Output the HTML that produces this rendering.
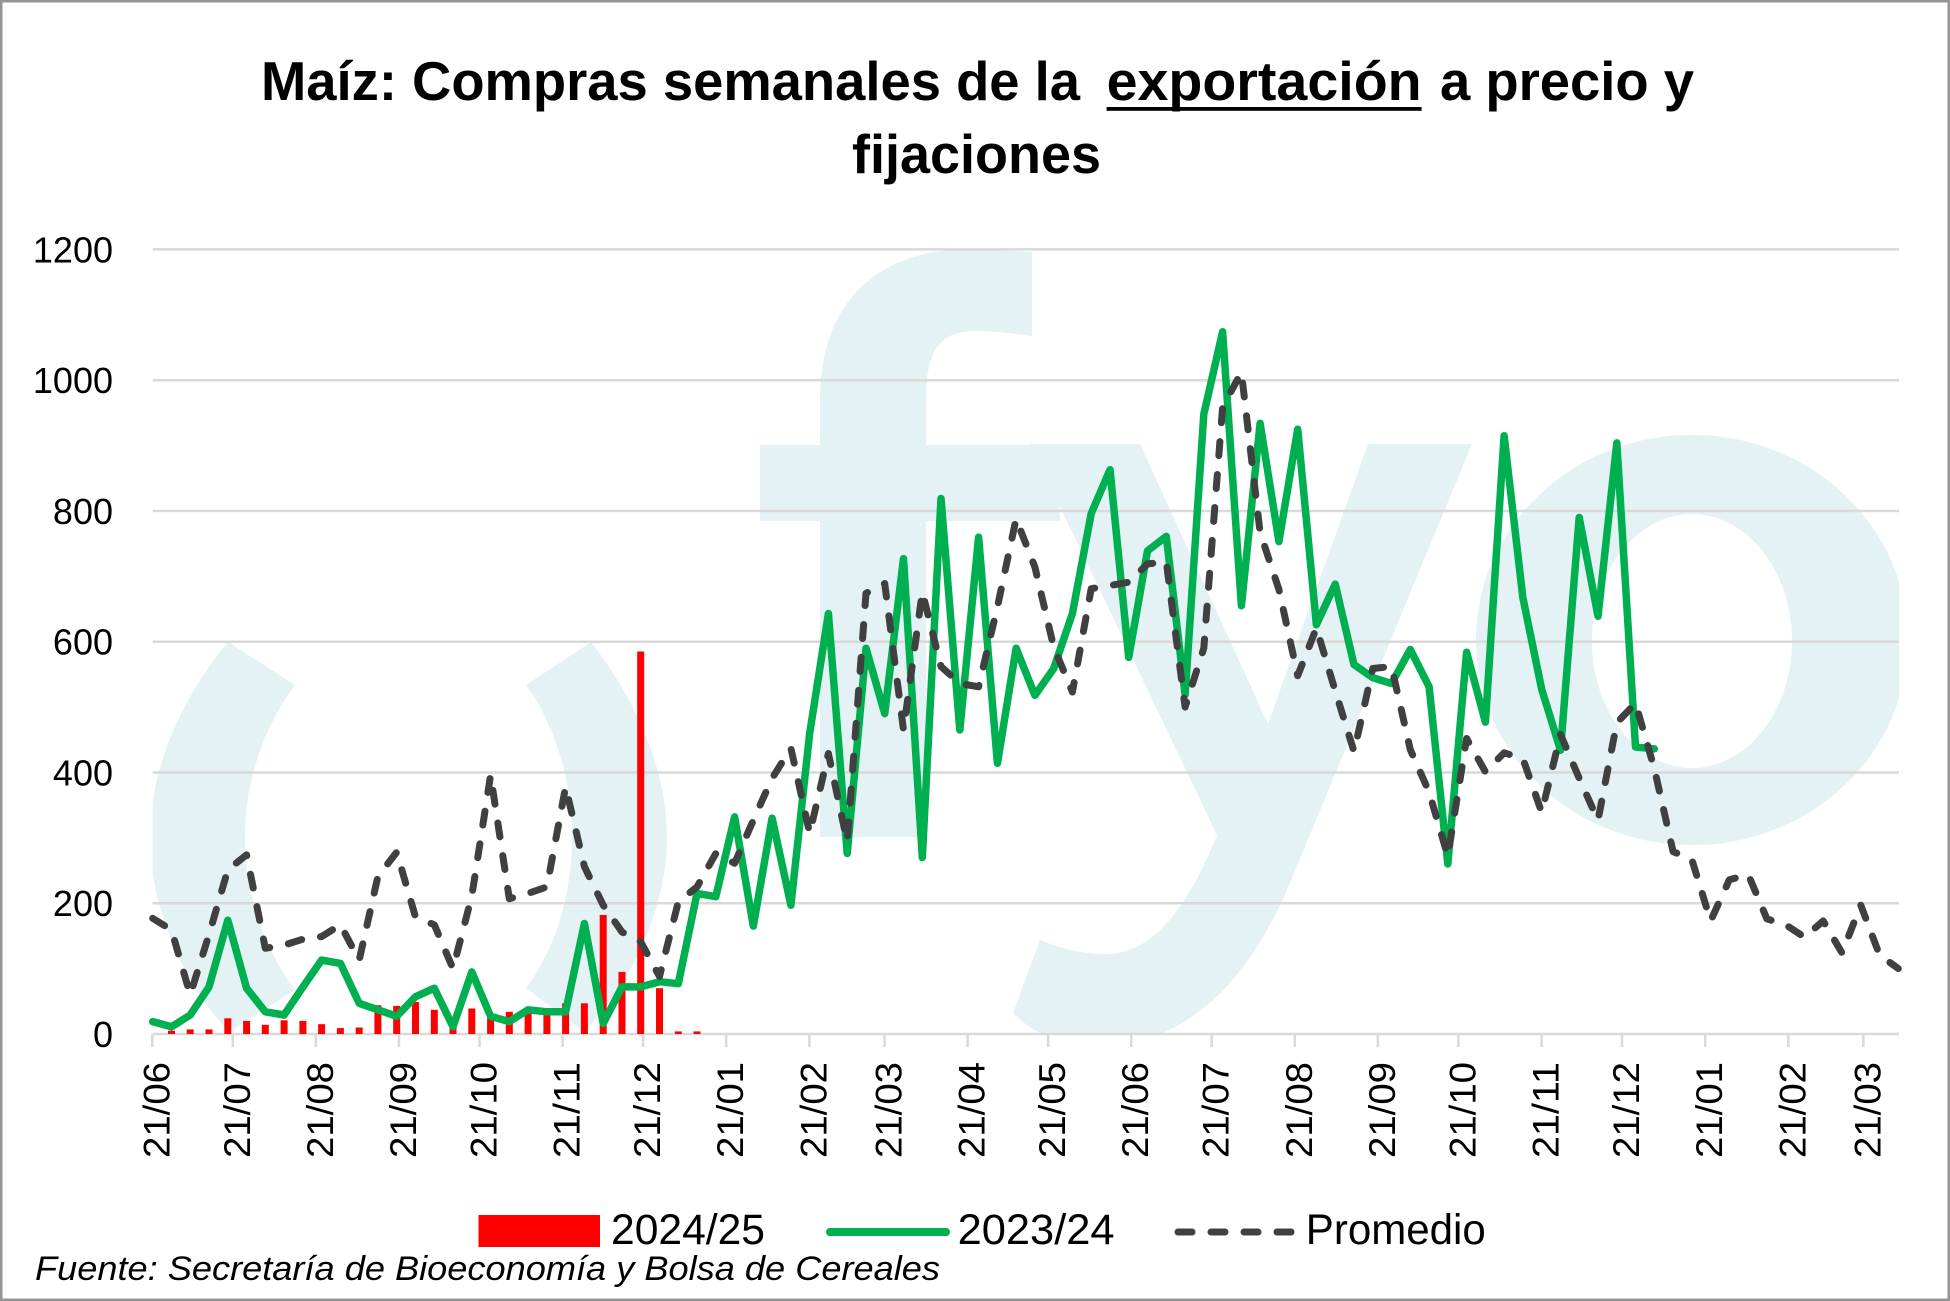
<!DOCTYPE html>
<html>
<head>
<meta charset="utf-8">
<style>
html,body{margin:0;padding:0;background:#fff;}
svg{display:block;}
text{font-family:"Liberation Sans",Arial,sans-serif;fill:#000;}
</style>
</head>
<body>
<svg width="1950" height="1301" viewBox="0 0 1950 1301" xmlns="http://www.w3.org/2000/svg">
<defs>
<clipPath id="pa"><rect x="152.7" y="249" width="1746.5" height="785"/></clipPath>
</defs>
<rect x="0" y="0" width="1950" height="1301" fill="#fff"/>

<!-- watermark -->
<g clip-path="url(#pa)" fill="#e4f1f5">
  <path d="M228,642 C180,700 150,770 150,837 C150,910 185,985 229,1032 L295,990 C265,950 245,895 245,837 C245,780 265,725 295,685 Z"/>
  <path d="M591,642 C636,700 667,770 667,837 C667,910 630,985 584,1032 L526,988 C555,950 572,895 572,837 C572,780 555,725 526,685 Z"/>
  <path d="M820,837 L820,400 C820,300 880,249 970,249 L1032,252 L1032,336 C1010,333 990,331 975,331 C940,331 926,350 926,400 L926,837 Z"/>
  <rect x="760" y="445" width="300" height="76"/>
  <path d="M1030,444 L1140,444 L1268,724 L1368,444 L1472,444 L1287,890 C1245,985 1185,1045 1100,1045 C1070,1045 1040,1040 1013,1013 L1040,940 C1065,950 1085,954 1107,954 C1160,954 1195,890 1217,835 Z"/>
  <path fill-rule="evenodd" d="M1476,640 A216,205 0 1,0 1908,640 A216,205 0 1,0 1476,640 Z M1592,641 A100,127 0 1,0 1792,641 A100,127 0 1,0 1592,641 Z"/>
</g>

<!-- gridlines -->
<g stroke="#d9d9d9" stroke-width="2.5">
  <line x1="152.7" y1="249.4" x2="1899" y2="249.4"/>
  <line x1="152.7" y1="380.2" x2="1899" y2="380.2"/>
  <line x1="152.7" y1="511" x2="1899" y2="511"/>
  <line x1="152.7" y1="641.7" x2="1899" y2="641.7"/>
  <line x1="152.7" y1="772.5" x2="1899" y2="772.5"/>
  <line x1="152.7" y1="903.2" x2="1899" y2="903.2"/>
  <line x1="152.7" y1="1034" x2="1899" y2="1034"/>
</g>
<!-- ticks -->
<g stroke="#d9d9d9" stroke-width="2.5">
  <line x1="152.3" y1="1034" x2="152.3" y2="1047"/>
  <line x1="232.8" y1="1034" x2="232.8" y2="1047"/>
  <line x1="315.9" y1="1034" x2="315.9" y2="1047"/>
  <line x1="399.0" y1="1034" x2="399.0" y2="1047"/>
  <line x1="479.5" y1="1034" x2="479.5" y2="1047"/>
  <line x1="562.6" y1="1034" x2="562.6" y2="1047"/>
  <line x1="643.1" y1="1034" x2="643.1" y2="1047"/>
  <line x1="726.2" y1="1034" x2="726.2" y2="1047"/>
  <line x1="809.4" y1="1034" x2="809.4" y2="1047"/>
  <line x1="884.5" y1="1034" x2="884.5" y2="1047"/>
  <line x1="967.6" y1="1034" x2="967.6" y2="1047"/>
  <line x1="1048.1" y1="1034" x2="1048.1" y2="1047"/>
  <line x1="1131.2" y1="1034" x2="1131.2" y2="1047"/>
  <line x1="1211.7" y1="1034" x2="1211.7" y2="1047"/>
  <line x1="1294.8" y1="1034" x2="1294.8" y2="1047"/>
  <line x1="1377.9" y1="1034" x2="1377.9" y2="1047"/>
  <line x1="1458.4" y1="1034" x2="1458.4" y2="1047"/>
  <line x1="1541.6" y1="1034" x2="1541.6" y2="1047"/>
  <line x1="1622.0" y1="1034" x2="1622.0" y2="1047"/>
  <line x1="1705.2" y1="1034" x2="1705.2" y2="1047"/>
  <line x1="1788.3" y1="1034" x2="1788.3" y2="1047"/>
  <line x1="1863.4" y1="1034" x2="1863.4" y2="1047"/>
</g>

<!-- bars 2024/25 -->
<g fill="#ff0000">
  <rect x="168" y="1030.7" width="7" height="3.3"/>
  <rect x="186.7" y="1029.4" width="7" height="4.6"/>
  <rect x="205.5" y="1029.4" width="7" height="4.6"/>
  <rect x="224.3" y="1018.3" width="7" height="15.7"/>
  <rect x="243.1" y="1020.9" width="7" height="13.1"/>
  <rect x="261.8" y="1024.8" width="7" height="9.2"/>
  <rect x="280.6" y="1020.3" width="7" height="13.7"/>
  <rect x="299.4" y="1020.9" width="7" height="13.1"/>
  <rect x="318.1" y="1024.2" width="7" height="9.8"/>
  <rect x="336.9" y="1028.1" width="7" height="5.9"/>
  <rect x="355.7" y="1027.5" width="7" height="6.5"/>
  <rect x="374.4" y="1005.2" width="7" height="28.8"/>
  <rect x="393.2" y="1005.9" width="7" height="28.1"/>
  <rect x="412.0" y="1002.0" width="7" height="32.0"/>
  <rect x="430.8" y="1009.8" width="7" height="24.2"/>
  <rect x="449.5" y="1026.2" width="7" height="7.8"/>
  <rect x="468.3" y="1008.5" width="7" height="25.5"/>
  <rect x="487.1" y="1017.7" width="7" height="16.3"/>
  <rect x="505.8" y="1011.8" width="7" height="22.2"/>
  <rect x="524.6" y="1011.1" width="7" height="22.9"/>
  <rect x="543.4" y="1011.1" width="7" height="22.9"/>
  <rect x="562.1" y="1003.3" width="7" height="30.7"/>
  <rect x="580.9" y="1003.3" width="7" height="30.7"/>
  <rect x="599.7" y="915.0" width="7" height="119.0"/>
  <rect x="618.5" y="971.9" width="7" height="62.1"/>
  <rect x="637.2" y="651.5" width="7" height="382.5"/>
  <rect x="656.0" y="988.2" width="7" height="45.8"/>
  <rect x="674.8" y="1031.4" width="7" height="2.6"/>
  <rect x="693.5" y="1031.4" width="7" height="2.6"/>
</g>

<!-- 2023/24 green -->
<polyline fill="none" stroke="#00b050" stroke-width="7.5" stroke-linejoin="round" stroke-linecap="round"
points="152.7,1021.6 171.5,1026.8 190.2,1015.0 209.0,986.9 227.8,920.2 246.6,988.2 265.3,1011.8 284.1,1015.0 302.9,986.9 321.6,960.1 340.4,963.4 359.2,1003.3 377.9,1009.8 396.7,1016.3 415.5,996.7 434.3,988.2 453.0,1026.8 471.8,971.9 490.6,1016.3 509.3,1021.6 528.1,1009.8 546.9,1011.8 565.6,1011.8 584.4,923.5 603.2,1023.5 622.0,986.9 640.7,986.9 659.5,981.7 678.3,983.7 697.0,893.4 715.8,896.7 734.6,816.9 753.3,926.1 772.1,818.2 790.9,905.2 809.7,733.2 828.4,613.6 847.2,853.5 866.0,648.2 884.7,713.6 903.5,558.6 922.3,857.5 941.0,498.5 959.8,730.0 978.6,537.1 997.4,763.3 1016.1,648.2 1034.9,695.3 1053.7,668.5 1072.4,613.6 1091.2,513.5 1110.0,469.7 1128.7,657.4 1147.5,550.8 1166.3,536.4 1185.1,694.7 1203.8,414.2 1222.6,331.8 1241.4,605.7 1260.1,423.3 1278.9,541.6 1297.7,429.2 1316.4,624.7 1335.2,584.1 1354.0,664.6 1372.8,677.7 1391.5,683.5 1410.3,649.5 1429.1,686.8 1447.8,864.0 1466.6,652.2 1485.4,722.1 1504.1,435.7 1522.9,597.9 1541.7,689.4 1560.5,750.2 1579.2,517.5 1598.0,616.2 1616.8,442.9 1635.5,747.0 1654.3,748.9"/>

<!-- Promedio dashed -->
<polyline fill="none" stroke="#404040" stroke-width="7" stroke-linejoin="round" stroke-linecap="round" stroke-dasharray="14 19"
points="152.7,918.3 171.5,930.0 190.2,994.8 209.0,934.6 227.8,869.9 246.6,854.8 265.3,948.3 284.1,945.1 302.9,939.2 321.6,936.6 340.4,924.8 359.2,960.1 377.9,876.4 396.7,852.2 415.5,917.0 434.3,924.8 453.0,968.6 471.8,896.0 490.6,775.1 509.3,898.7 528.1,893.4 546.9,886.9 565.6,786.8 584.4,866.6 603.2,905.2 622.0,932.0 640.7,941.8 659.5,976.5 678.3,901.9 697.0,886.9 715.8,853.5 734.6,863.3 753.3,820.2 772.1,778.3 790.9,748.3 809.7,833.3 828.4,753.5 847.2,841.8 866.0,593.3 884.7,583.5 903.5,730.0 922.3,592.0 941.0,666.5 959.8,683.5 978.6,686.8 997.4,607.0 1016.1,518.8 1034.9,567.1 1053.7,646.9 1072.4,692.0 1091.2,588.7 1110.0,585.5 1128.7,582.2 1147.5,563.9 1166.3,561.9 1185.1,707.1 1203.8,648.2 1222.6,407.0 1241.4,372.3 1260.1,532.5 1278.9,589.4 1297.7,675.7 1316.4,628.0 1335.2,690.7 1354.0,751.5 1372.8,668.5 1391.5,666.5 1410.3,749.6 1429.1,792.1 1447.8,856.2 1466.6,738.5 1485.4,771.8 1504.1,752.8 1522.9,758.7 1541.7,812.3 1560.5,734.5 1579.2,778.3 1598.0,820.2 1616.8,722.8 1635.5,703.2 1654.3,768.5 1673.1,851.6 1691.8,859.4 1710.6,920.9 1729.4,879.7 1748.2,874.5 1766.9,918.9 1785.7,924.8 1804.5,937.2 1823.2,920.9 1842.0,952.9 1860.8,905.2 1879.5,954.9 1898.3,968.6"/>

<!-- y axis labels -->
<g font-size="36" text-anchor="end">
  <text x="113" y="262.4">1200</text>
  <text x="113" y="393.2">1000</text>
  <text x="113" y="524">800</text>
  <text x="113" y="654.7">600</text>
  <text x="113" y="785.5">400</text>
  <text x="113" y="916.2">200</text>
  <text x="113" y="1047">0</text>
</g>

<!-- x axis labels -->
<g font-size="37">
  <text transform="translate(169.3,1158) rotate(-90)" textLength="96" lengthAdjust="spacingAndGlyphs">21/06</text>
  <text transform="translate(249.8,1158) rotate(-90)" textLength="96" lengthAdjust="spacingAndGlyphs">21/07</text>
  <text transform="translate(332.9,1158) rotate(-90)" textLength="96" lengthAdjust="spacingAndGlyphs">21/08</text>
  <text transform="translate(416.0,1158) rotate(-90)" textLength="96" lengthAdjust="spacingAndGlyphs">21/09</text>
  <text transform="translate(496.5,1158) rotate(-90)" textLength="96" lengthAdjust="spacingAndGlyphs">21/10</text>
  <text transform="translate(579.6,1158) rotate(-90)" textLength="96" lengthAdjust="spacingAndGlyphs">21/11</text>
  <text transform="translate(660.1,1158) rotate(-90)" textLength="96" lengthAdjust="spacingAndGlyphs">21/12</text>
  <text transform="translate(743.2,1158) rotate(-90)" textLength="96" lengthAdjust="spacingAndGlyphs">21/01</text>
  <text transform="translate(826.4,1158) rotate(-90)" textLength="96" lengthAdjust="spacingAndGlyphs">21/02</text>
  <text transform="translate(901.5,1158) rotate(-90)" textLength="96" lengthAdjust="spacingAndGlyphs">21/03</text>
  <text transform="translate(984.6,1158) rotate(-90)" textLength="96" lengthAdjust="spacingAndGlyphs">21/04</text>
  <text transform="translate(1065.1,1158) rotate(-90)" textLength="96" lengthAdjust="spacingAndGlyphs">21/05</text>
  <text transform="translate(1148.2,1158) rotate(-90)" textLength="96" lengthAdjust="spacingAndGlyphs">21/06</text>
  <text transform="translate(1228.7,1158) rotate(-90)" textLength="96" lengthAdjust="spacingAndGlyphs">21/07</text>
  <text transform="translate(1311.8,1158) rotate(-90)" textLength="96" lengthAdjust="spacingAndGlyphs">21/08</text>
  <text transform="translate(1394.9,1158) rotate(-90)" textLength="96" lengthAdjust="spacingAndGlyphs">21/09</text>
  <text transform="translate(1475.4,1158) rotate(-90)" textLength="96" lengthAdjust="spacingAndGlyphs">21/10</text>
  <text transform="translate(1558.6,1158) rotate(-90)" textLength="96" lengthAdjust="spacingAndGlyphs">21/11</text>
  <text transform="translate(1639.0,1158) rotate(-90)" textLength="96" lengthAdjust="spacingAndGlyphs">21/12</text>
  <text transform="translate(1722.2,1158) rotate(-90)" textLength="96" lengthAdjust="spacingAndGlyphs">21/01</text>
  <text transform="translate(1805.3,1158) rotate(-90)" textLength="96" lengthAdjust="spacingAndGlyphs">21/02</text>
  <text transform="translate(1880.4,1158) rotate(-90)" textLength="96" lengthAdjust="spacingAndGlyphs">21/03</text>
</g>

<!-- title -->
<g font-size="55" font-weight="bold">
  <text x="261" y="100" textLength="819" lengthAdjust="spacingAndGlyphs">Maíz: Compras semanales de la</text>
  <text x="1106.6" y="100" textLength="315" lengthAdjust="spacingAndGlyphs">exportación</text>
  <text x="1440" y="100" textLength="254" lengthAdjust="spacingAndGlyphs">a precio y</text>
  <text x="852" y="173" textLength="249" lengthAdjust="spacingAndGlyphs">fijaciones</text>
</g>
<rect x="1106.6" y="107" width="315" height="3.8" fill="#000"/>

<!-- legend -->
<rect x="478.5" y="1215" width="121.5" height="32" fill="#ff0000"/>
<line x1="830" y1="1232" x2="946" y2="1232" stroke="#00b050" stroke-width="8" stroke-linecap="round"/>
<line x1="1178" y1="1232" x2="1297" y2="1232" stroke="#404040" stroke-width="7" stroke-linecap="round" stroke-dasharray="14 19"/>
<g font-size="43">
  <text x="611" y="1244" textLength="154" lengthAdjust="spacingAndGlyphs">2024/25</text>
  <text x="957.6" y="1244" textLength="157" lengthAdjust="spacingAndGlyphs">2023/24</text>
  <text x="1305.8" y="1244" textLength="180" lengthAdjust="spacingAndGlyphs">Promedio</text>
</g>

<!-- footer -->
<text x="35" y="1280" font-size="34" font-style="italic" textLength="905" lengthAdjust="spacingAndGlyphs">Fuente: Secretaría de Bioeconomía y Bolsa de Cereales</text>

<!-- border -->
<rect x="1.25" y="1.25" width="1947.5" height="1298.5" fill="none" stroke="#959595" stroke-width="2.5"/>
</svg>
</body>
</html>
